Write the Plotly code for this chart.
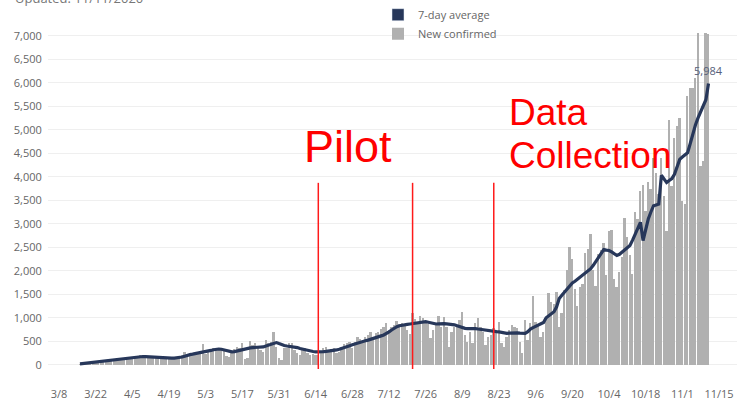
import pandas as pd
import plotly.graph_objects as go

# ---------------- data ----------------
first_day = "2020-03-16"

new_confirmed = [
    15, 22, 28, 35, 40, 50, 55,
    60, 70, 75, 90, 100, 95, 90,
    110, 125, 140, 150, 165, 150, 140,
    160, 185, 200, 190, 175, 150, 140,
    150, 170, 160, 150, 140, 120, 130,
    140, 150, 165, 170, 210, 282, 180,
    210, 240, 260, 250, 300, 437, 230,
    300, 330, 360, 340, 320, 310, 290,
    180, 170, 300, 340, 380, 352, 458,
    120, 140, 507, 423, 458, 352, 317,
    282, 528, 458, 493, 705, 388, 141,
    92, 352, 366, 458, 472, 317, 247,
    211, 317, 352, 247, 211, 230, 200,
    211, 282, 352, 388, 317, 330, 352,
    247, 282, 388, 444, 472, 493, 350,
    493, 599, 543, 458, 585, 634, 705,
    600, 669, 705, 754, 810, 895, 740,
    800, 845, 937, 870, 881, 845, 740,
    655, 1092, 965, 881, 1036, 987, 881,
    860, 564, 740, 860, 1036, 811, 1022,
    811, 388, 705, 811, 846, 952, 1128,
    634, 493, 705, 458, 881, 987, 811,
    705, 423, 600, 634, 775, 740, 916,
    458, 388, 600, 740, 846, 811, 775,
    493, 247, 952, 529, 881, 1459, 916,
    850, 600, 705, 987, 1530, 1340, 1300,
    1551, 811, 1093, 1586, 2009, 2503, 2256,
    1621, 1248, 1657, 1727, 2376, 2468, 2785,
    2009, 1671, 2362, 2450, 2600, 1900, 2854,
    2875, 1832, 1656, 1973, 2290, 3115, 2713,
    2325, 1938, 3242, 3100, 3700, 3820, 3276,
    3890, 3735, 4404, 4087, 3630, 4404, 3594,
    2854, 5215, 3806, 4827, 5074, 5250, 3488,
    3418, 5708, 5884, 5884, 6096, 7047, 4228,
    4334, 7047, 7033,
]

seven_day_average = [
    20, 27, 34, 41, 48, 55, 62,
    68, 72, 78, 85, 92, 100, 108,
    115, 120, 128, 136, 145, 152, 160,
    168, 172, 176, 176, 172, 168, 163,
    158, 155, 152, 148, 145, 142, 141,
    141, 143, 148, 155, 165, 182, 204,
    215, 225, 235, 245, 255, 260, 275,
    290, 305, 320, 331, 335, 330, 315,
    296, 285, 275, 280, 295, 305, 317,
    330, 345, 360, 366, 368, 366, 366,
    380, 400, 420, 445, 465, 472, 450,
    423, 410, 400, 395, 388, 380, 365,
    345, 330, 317, 305, 292, 282, 275,
    272, 275, 280, 285, 290, 296, 303,
    315, 330, 345, 366, 385, 405, 425,
    445, 465, 479, 493, 510, 525, 540,
    557, 575, 595, 615, 634, 660, 700,
    740, 780, 810, 830, 845, 855, 860,
    867, 875, 885, 895, 902, 910, 916,
    905, 890, 880, 867, 870, 881, 875,
    870, 865, 860, 850, 832, 810, 790,
    775, 770, 775, 775, 770, 760, 750,
    740, 730, 725, 720, 715, 705, 700,
    690, 675, 670, 675, 680, 684, 680,
    675, 670, 670, 705, 760, 790, 820,
    846, 867, 900, 1000, 1050, 1100, 1128,
    1233, 1410, 1480, 1550, 1620, 1691, 1740,
    1777, 1820, 1870, 1904, 1952, 2000, 2044,
    2115, 2200, 2300, 2380, 2452, 2440, 2431,
    2400, 2360, 2325, 2350, 2396, 2430, 2480,
    2537, 2650, 2780, 2900, 3030, 2643, 2900,
    3100, 3250, 3383, 3400, 3418, 4031, 3950,
    3876, 3920, 3960, 4050, 4200, 4369, 4420,
    4470, 4510, 4700, 4933, 5100, 5250, 5391,
    5500, 5638, 5984,
]

tick_dates = ["2020-03-08", "2020-03-22", "2020-04-05", "2020-04-19", "2020-05-03",
              "2020-05-17", "2020-05-31", "2020-06-14", "2020-06-28", "2020-07-12",
              "2020-07-26", "2020-08-09", "2020-08-23", "2020-09-06", "2020-09-20",
              "2020-10-04", "2020-10-18", "2020-11-01", "2020-11-15"]
tick_labels = ["3/8", "3/22", "4/5", "4/19", "5/3", "5/17", "5/31", "6/14", "6/28",
               "7/12", "7/26", "8/9", "8/23", "9/6", "9/20", "10/4", "10/18", "11/1", "11/15"]

y_ticks = [0, 500, 1000, 1500, 2000, 2500, 3000, 3500, 4000, 4500, 5000, 5500, 6000, 6500, 7000]

phase_marks = ["2020-06-15", "2020-07-21", "2020-08-21"]
updated_text = "Updated: 11/11/2020"

dates = pd.date_range(first_day, periods=len(new_confirmed), freq="D")

# ---------------- styling ----------------
NAVY = "#27375a"
GRAY = "#b0b0b0"
TXT = "#666666"
FONT = "Open Sans"

fig = go.Figure()

# legend proxies (square swatches)
fig.add_trace(go.Bar(x=[None], y=[None], name="7-day average", marker_color=NAVY,
                     showlegend=True))
fig.add_trace(go.Bar(x=dates, y=new_confirmed, name="New confirmed",
                     marker=dict(color=GRAY, line_width=0),
                     width=0.7 * 86400000, hoverinfo="x+y"))
fig.add_trace(go.Scatter(x=dates, y=seven_day_average, mode="lines",
                         line=dict(color=NAVY, width=3.2), showlegend=False,
                         name="7-day average"))

# red phase markers
for d in phase_marks:
    fig.add_shape(type="line", xref="x", yref="y", x0=d, x1=d, y0=-90, y1=3870,
                  line=dict(color="#ff1a1a", width=1.5), layer="above")

annotations = [
    dict(x=dates[-1], y=seven_day_average[-1], xref="x", yref="y",
         text=f"{seven_day_average[-1]:,}", showarrow=False, yshift=13,
         font=dict(family=FONT, size=11, color="#56607a")),
    dict(x=348, y=145, text="Pilot", showarrow=False, xanchor="center",
         font=dict(family="Liberation Sans", size=45, color="#ff0000")),
    dict(x=507, y=111, text="Data", showarrow=False, xanchor="left",
         font=dict(family="Liberation Sans", size=37, color="#ff0000")),
    dict(x=507, y=154, text="Collection", showarrow=False, xanchor="left",
         font=dict(family="Liberation Sans", size=37, color="#ff0000")),
    dict(x=13, y=-4, text=updated_text, showarrow=False, xanchor="left",
         font=dict(family=FONT, size=13, color="#777777")),
]

# convert pixel-positioned labels to paper coords
L, R, T, B, W, H = 48, 0, 29, 33, 737, 402
pw, ph = W - L - R, H - T - B
for a in annotations[1:]:
    a["x"] = (a["x"] - L) / pw
    a["y"] = (H - B - a["y"]) / ph
    a["xref"] = "paper"
    a["yref"] = "paper"
    a["yanchor"] = "middle"
fig.update_layout(annotations=annotations)

fig.update_layout(
    width=W, height=H,
    margin=dict(l=L, r=R, t=T, b=B, pad=0),
    paper_bgcolor="white", plot_bgcolor="white",
    barmode="overlay", bargap=0,
    font=dict(family=FONT, size=11, color=TXT),
    legend=dict(x=(378 - L) / pw, y=(H - B + 2) / ph, xanchor="left", yanchor="top",
                orientation="v", font=dict(family=FONT, size=11, color=TXT),
                bgcolor="rgba(0,0,0,0)", tracegroupgap=0, itemclick=False),
    showlegend=True,
    xaxis=dict(type="date", range=["2020-03-03 19:00", "2020-11-21 21:00"],
               tickvals=tick_dates, ticktext=tick_labels, showgrid=False,
               zeroline=False, showline=False, ticks="outside", ticklen=15,
               tickcolor="rgba(0,0,0,0)", tickfont=dict(size=11, color=TXT)),
    yaxis=dict(range=[-90, 7100], tickvals=y_ticks, tickformat=",d",
               showgrid=True, gridcolor="#efefef", gridwidth=1, zeroline=False,
               showline=False, ticks="outside", ticklen=3,
               tickcolor="rgba(0,0,0,0)", tickfont=dict(size=11, color=TXT)),
)

fig.write_html("out.html", config={"displayModeBar": False},
               post_script="document.body.style.margin='0';")
